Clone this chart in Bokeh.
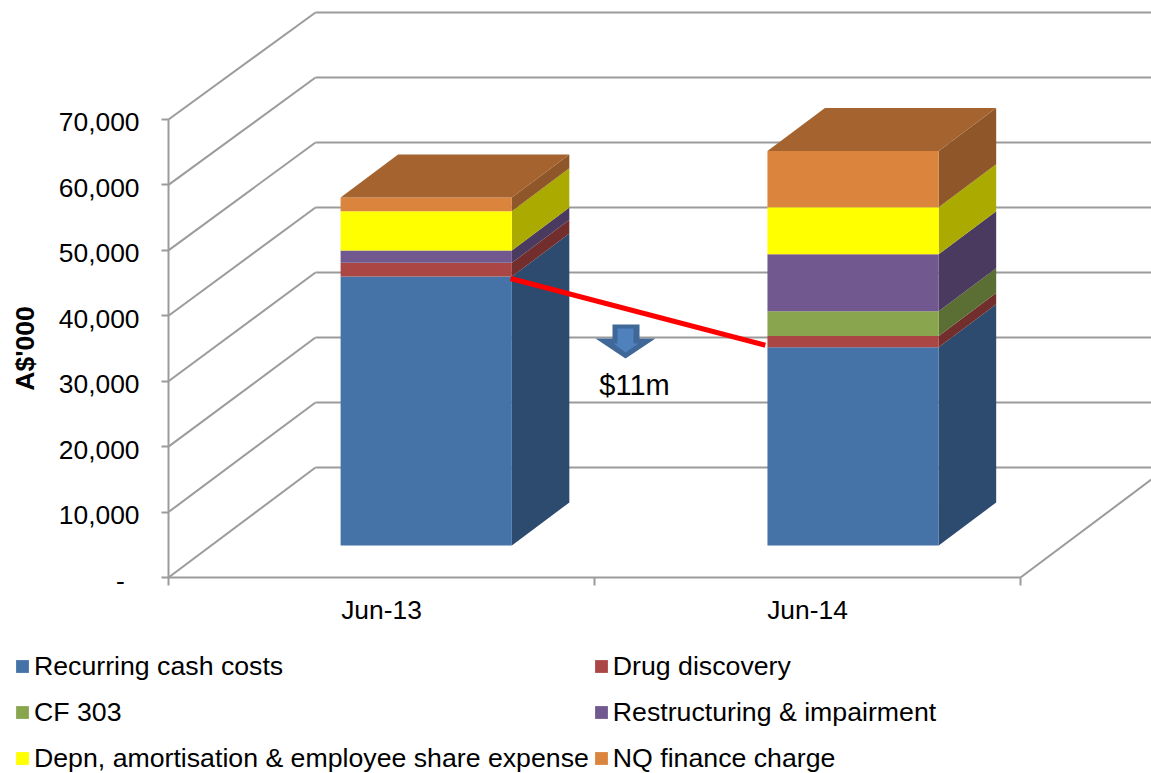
from math import pi
from bokeh.plotting import figure
from bokeh.embed import file_html
from bokeh.resources import INLINE
from bokeh.models import (Range1d, LinearAxis, FixedTicker, Legend, LegendItem, Label)

# ---- data ----
categories = ["Jun-13", "Jun-14"]
recurring = [41100, 30300]
drug = [2100, 1700]
cf303 = [0, 3800]
restructuring = [1900, 8700]
depn = [6000, 7200]
nq = [2100, 8600]
series_names = ["Recurring cash costs", "Drug discovery", "CF 303", "Restructuring & impairment",
                "Depn, amortisation & employee share expense", "NQ finance charge"]
series_values = [recurring, drug, cf303, restructuring, depn, nq]
front_colors = ["#4572a7", "#aa4643", "#89a54e", "#71588f", "#ffff00", "#db843d"]
side_colors = ["#2d4a6f", "#722e2c", "#5b6e34", "#4b3a5f", "#aaaa00", "#8f5729"]
top_color = "#a5642f"
y_ticks = [0, 10000, 20000, 30000, 40000, 50000, 60000, 70000]
y_tick_labels = ["-\u00a0\u00a0", "10,000", "20,000", "30,000", "40,000", "50,000", "60,000", "70,000"]
change_label = "$11m"
FONT = "Liberation Sans"
GRID = "#9b9b9b"

# ---- scales: one category = 426 px, 10,000 = 65.43 px ----
W, H = 1151, 773
LEFT, BOTTOM = 168, 196
PX_X = 426.0
PX_Y = 6.543e-3
x_end = (W - LEFT) / PX_X
y_end = (H - BOTTOM) / PX_Y
DX = 147 / PX_X          # full depth of the box
DY = 110 / PX_Y
SHRINK = 0.0066          # slight perspective of the back wall
LABEL_DROP = 3 / PX_Y    # tick labels sit 3 px below their ticks


def proj(x, y, d):
    return x + d * DX, y * (1 - SHRINK * d) + d * DY


p = figure(width=W, height=H, output_backend="svg", toolbar_location=None,
           x_range=Range1d(-LEFT / PX_X, x_end), y_range=Range1d(-BOTTOM / PX_Y, y_end),
           x_axis_type=None, y_axis_type=None,
           min_border_left=0, min_border_right=0, min_border_top=0, min_border_bottom=0,
           outline_line_color=None, margin=(0, 0, 0, 0))
p.grid.visible = False

# ---- walls ----
back_x, back_y = [], []
side_x, side_y = [], []
for v in y_ticks:
    x0, y0 = proj(0, v, 0)
    x1, y1 = proj(0, v, 1)
    side_x.append([x0, x1])
    side_y.append([y0, y1])
    x2, _ = proj(x_end, v, 1)
    back_x.append([x1, x2])
    back_y.append([y1, y1])
p.multi_line(side_x, side_y, line_color=GRID, line_width=2)
p.multi_line(back_x, back_y, line_color=GRID, line_width=2)
fx, fy = proj(2, 0, 1)
p.line([2, fx], [0, fy], line_color=GRID, line_width=2)

# ---- axes ----
yax = LinearAxis(ticker=FixedTicker(ticks=y_ticks), bounds=(0, 70000), fixed_location=0,
                 major_label_overrides={v: "" for v in y_ticks},
                 axis_line_color=GRID, axis_line_width=2,
                 major_tick_line_color=GRID, major_tick_line_width=2,
                 major_tick_in=0, major_tick_out=7, minor_tick_line_color=None)
p.add_layout(yax, "left")
label_ticks = [v - LABEL_DROP for v in y_ticks]
ylab = LinearAxis(ticker=FixedTicker(ticks=label_ticks), fixed_location=0,
                  major_label_overrides=dict(zip(label_ticks, y_tick_labels)),
                  axis_line_color=None, major_tick_line_color=None, minor_tick_line_color=None,
                  major_tick_in=0, major_tick_out=7,
                  major_label_standoff=22, major_label_text_font=FONT,
                  major_label_text_font_size="26.4px", major_label_text_color="#000000")
p.add_layout(ylab, "left")
xax = LinearAxis(ticker=FixedTicker(ticks=[0.5, 1.5], minor_ticks=[0, 1, 2]), bounds=(0, 2), fixed_location=0,
                 major_label_overrides={0.5: categories[0], 1.5: categories[1]},
                 axis_line_color=GRID, axis_line_width=2,
                 major_tick_line_color=None, major_tick_in=0, major_tick_out=0,
                 minor_tick_line_color=GRID, minor_tick_line_width=2,
                 minor_tick_in=0, minor_tick_out=8,
                 major_label_standoff=9, major_label_text_font=FONT,
                 major_label_text_font_size="26.4px", major_label_text_color="#000000")
p.add_layout(xax, "below")
p.add_layout(Label(x=-0.337, y=35000, text="A$'000", angle=pi / 2, angle_units="rad",
                   text_font=FONT, text_font_size="26.5px", text_font_style="bold",
                   text_align="center", text_baseline="middle", text_color="#000000"))

# ---- stacked 3-D bars ----
BAR_LEFT = [0.404, 1.406]
BAR_WIDTH = 0.402
D_FRONT, D_BACK = 0.291, 0.682
legend_items = []
tops = [0.0, 0.0]
base_offset = D_FRONT * DY
step_x = (D_BACK - D_FRONT) * DX
step_y = (D_BACK - D_FRONT) * DY
for name, vals, fc, sc in zip(series_names, series_values, front_colors, side_colors):
    lefts, rights, bots, ups = [], [], [], []
    sx, sy = [], []
    for i, v in enumerate(vals):
        b = tops[i]
        t = b + v
        tops[i] = t
        lefts.append(BAR_LEFT[i])
        rights.append(BAR_LEFT[i] + BAR_WIDTH)
        bots.append(b + base_offset)
        ups.append(t + base_offset)
        if v > 0:
            r = BAR_LEFT[i] + BAR_WIDTH
            sx.append([r, r + step_x, r + step_x, r])
            sy.append([b + base_offset, b + base_offset + step_y,
                       t + base_offset + step_y, t + base_offset])
    p.patches(sx, sy, fill_color=sc, line_color=None)
    rn = p.quad(left=lefts, right=rights, bottom=bots, top=ups, fill_color=fc, line_color=None)
    legend_items.append(LegendItem(label=name, renderers=[rn]))

# bar tops
tx, ty = [], []
for i in range(2):
    l, r = BAR_LEFT[i], BAR_LEFT[i] + BAR_WIDTH
    t = tops[i] + base_offset
    tx.append([l, r, r + step_x, l + step_x])
    ty.append([t, t, t + step_y, t + step_y])
p.patches(tx, ty, fill_color=top_color, line_color=None)

# ---- change annotation ----
blue1 = recurring[0] + base_offset
blue2 = recurring[1] + base_offset
p.line([BAR_LEFT[0] + BAR_WIDTH - 0.003, BAR_LEFT[1] - 0.005], [blue1 - 300, blue2 + 300],
       line_color="#ff0000", line_width=5)


def px(xp):
    return (xp - LEFT) / PX_X


def py(yp):
    return (577 - yp) / PX_Y


p.patch([px(a) for a in (612, 639, 639, 655, 625, 595, 612)],
        [py(a) for a in (324, 324, 338, 338, 358, 338, 338)], fill_color="#3f6797", line_color=None)
p.patch([px(a) for a in (617, 633, 633, 638, 625, 613, 617)],
        [py(a) for a in (328, 328, 343, 343, 352, 343, 343)], fill_color="#4f81bd", line_color=None)
p.add_layout(Label(x=px(634), y=py(384), text=change_label, text_font=FONT, text_font_size="29px",
                   text_align="center", text_baseline="middle", text_color="#000000"))

# ---- legend ----
legend = Legend(items=legend_items, ncols=2, location=(14, -6), orientation="horizontal",
                label_text_font=FONT, label_text_font_size="26.7px", label_text_color="#000000",
                glyph_width=16, glyph_height=16, label_standoff=4, spacing=4, padding=0, margin=0,
                border_line_color=None, background_fill_alpha=0, label_height=42, label_width=10)
p.add_layout(legend)

open("out.html", "w").write(file_html(p, INLINE))
